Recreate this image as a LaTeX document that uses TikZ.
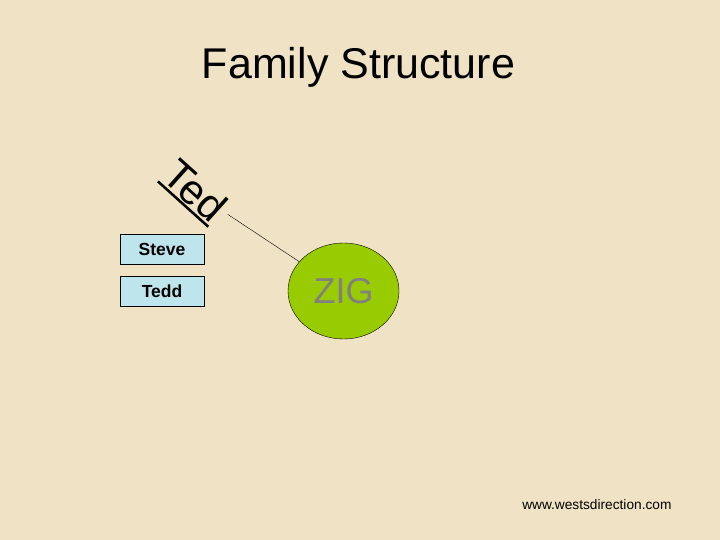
\documentclass[tikz,border=0pt]{standalone}
\usepackage{fontspec}
\setmainfont{Liberation Sans}
\usetikzlibrary{shapes.geometric}
\definecolor{parchment}{RGB}{240,226,196}
\definecolor{boxblue}{RGB}{190,228,236}
\definecolor{zigfill}{RGB}{153,204,0}
\definecolor{ziggray}{RGB}{128,128,128}
\newcommand{\thickul}[1]{\setbox0\hbox{#1}\rlap{\rule[-0.11em]{\wd0}{0.06em}}#1}
\begin{document}
\begin{tikzpicture}[x=1pt, y=-1pt, thin,name box/.style={rectangle,draw,fill=boxblue,minimum width=84pt,minimum height=30pt,inner sep=0pt,font=\fontsize{17.5}{19}\selectfont\bfseries},big node/.style={ellipse,draw,fill=zigfill,minimum width=111pt,minimum height=96pt,inner sep=0pt,text=ziggray,font=\fontsize{36}{40}\selectfont}]
\useasboundingbox (0,0) rectangle (720,540);
\fill[parchment] (0,0) rectangle (720,540);
\begin{scope}
\node[anchor=base, font=\fontsize{43}{48}\selectfont] (title) at (358.5,79) {Family Structure};
\node[rotate=-42, inner sep=6pt, font=\fontsize{42}{46}\selectfont] (ted) at (194,192) {\thickul{Ted}};
\node[name box] (steve) at (162,249) {Steve};
\node[name box] (tedd) at (162,291) {Tedd};
\node[big node] (zig) at (343.5,291) {ZIG};
\node[anchor=base east, font=\fontsize{13.7}{16}\selectfont] (web) at (675,509) {www.westsdirection.com};
\end{scope}
\begin{scope}
\draw (ted) edge node{} (zig);
\end{scope}
\end{tikzpicture}
\end{document}
